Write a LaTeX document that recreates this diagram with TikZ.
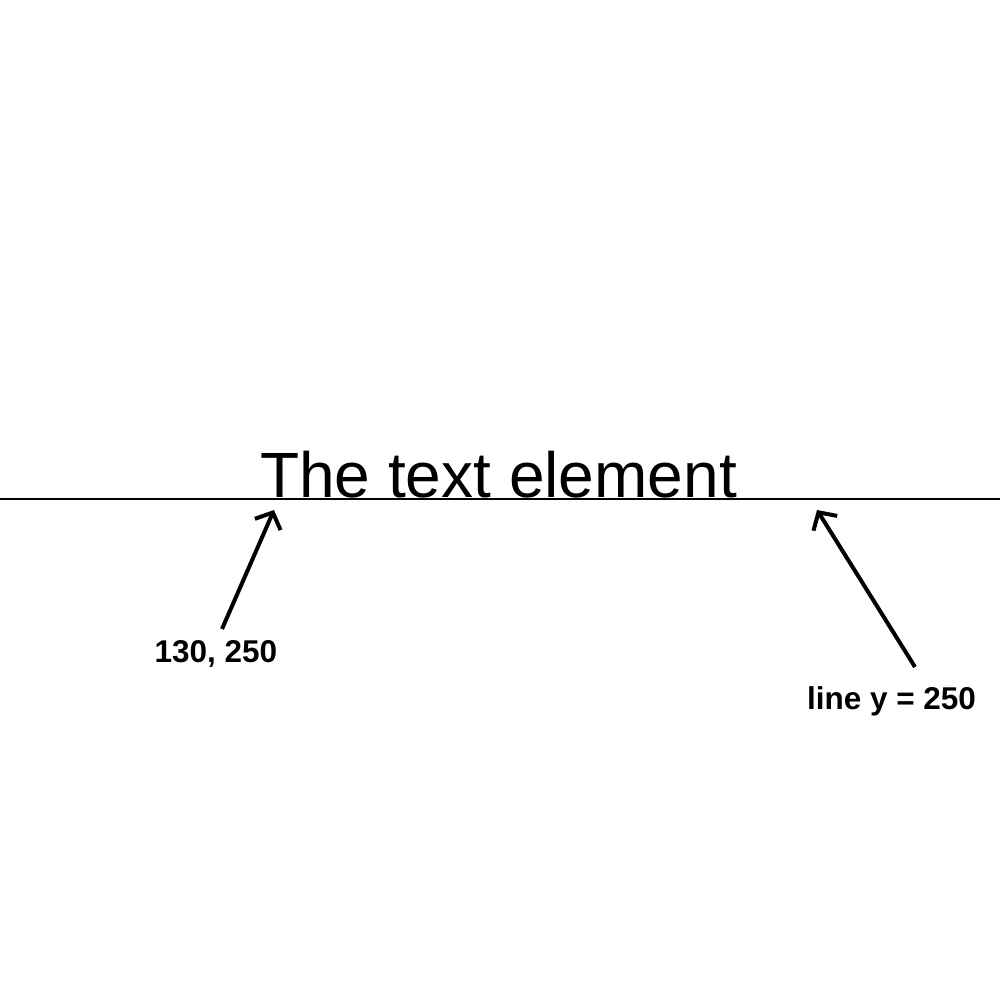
\documentclass[tikz,border=0pt]{standalone}
\usepackage{fontspec}
\setmainfont{Liberation Sans}
\usetikzlibrary{arrows.meta}
\begin{document}
\begin{tikzpicture}[x=1pt,y=-1pt,
  title/.style={inner sep=0pt,anchor=base west,font=\fontsize{64}{70}\selectfont},
  lbl/.style={inner sep=0pt,anchor=base,font=\fontsize{31.5}{36}\selectfont\bfseries},
  pointer/.style={line width=4pt,-{Straight Barb[length=13pt,width=28pt,line width=4pt]}}]
\fill[white] (0,0) rectangle (1000,1000);
\useasboundingbox (0,0) rectangle (1000,1000);
\coordinate (lineL) at (0,499);
\coordinate (lineR) at (1000,499);
\draw[line width=2pt] (lineL) -- (lineR);
\node[title] (txt) at (260,497) {The text element};
\node[lbl] (lab1) at (216,662) {130, 250};
\node[lbl] (lab2) at (891.5,709) {line y = 250};
\coordinate (s1) at (222,629);
\coordinate (t1) at (274,510);
\coordinate (s2) at (915,667);
\coordinate (t2) at (817,510);
\draw[pointer] (s1) -- (t1);
\draw[pointer] (s2) -- (t2);
\end{tikzpicture}
\end{document}
